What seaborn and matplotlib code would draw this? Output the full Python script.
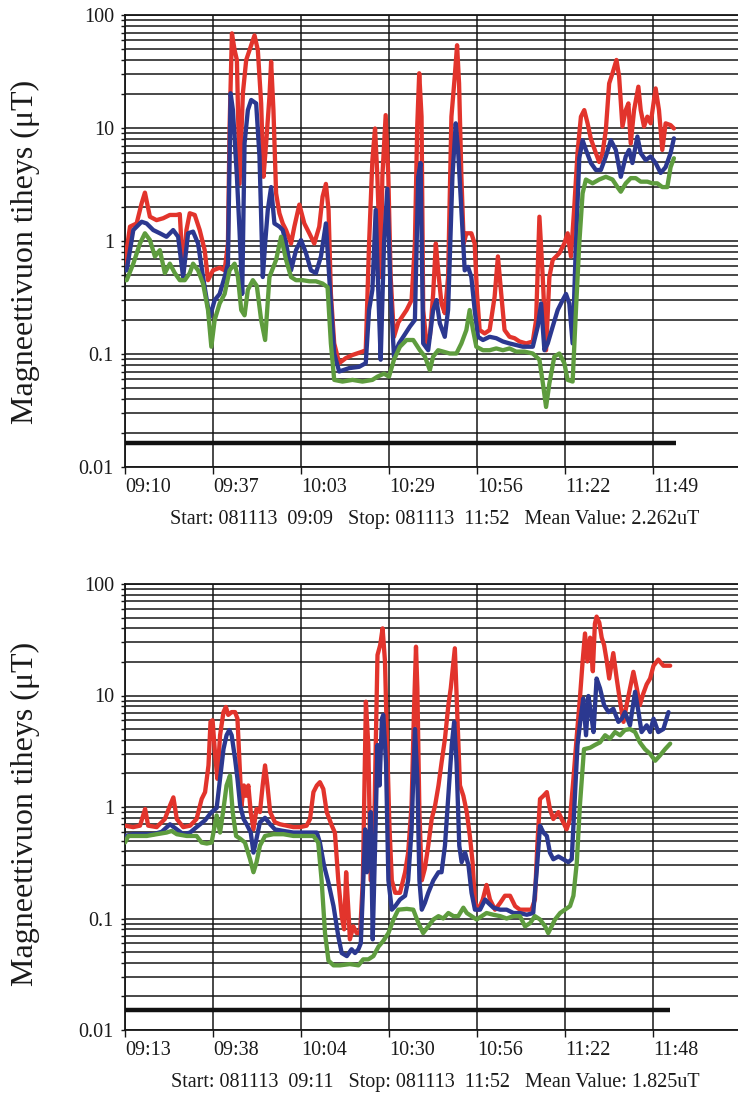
import numpy as np
import pandas as pd
import matplotlib
matplotlib.use("Agg")
import matplotlib.pyplot as plt
from matplotlib.ticker import LogLocator, FixedLocator, NullFormatter
import seaborn as sns

# ---------------- data (minutes after first tick, value in uT) ----------------
top_tick_labels = ["09:10", "09:37", "10:03", "10:29", "10:56", "11:22", "11:49"]
top_tick_step = 159 / 6          # minutes between labelled ticks
top_x_span = 184.6              # visible minutes
top_caption = "Start: 081113  09:09   Stop: 081113  11:52   Mean Value: 2.262uT"
top_limit_level = 0.0163
top_limit_end = 166.0

bot_tick_labels = ["09:13", "09:38", "10:04", "10:30", "10:56", "11:22", "11:48"]
bot_tick_step = 155 / 6
bot_x_span = 179.9
bot_caption = "Start: 081113  09:11   Stop: 081113  11:52   Mean Value: 1.825uT"
bot_limit_level = 0.0151
bot_limit_end = 160.0

top_red = [(0.0,0.6),(0.5,0.83),(1.5,1.34),(3.5,1.43),(5.0,2.15),(6.0,2.68),(7.5,1.64),(9.5,1.53),(11.5,1.59),(13.5,1.70),
 (15.5,1.70),(16.5,1.73),(17.0,0.95),(17.5,0.52),(18.5,1.25),(19.5,1.76),(21.0,1.70),(22.5,1.25),(24.0,0.83),(25.0,0.45),
 (26.5,0.55),(28.5,0.58),(30.0,0.55),(31.0,0.95),(31.5,10.3),(32.2,68.8),(33.0,49),(33.7,40),(34.5,3.2),(35.5,20.3),
 (36.5,40),(37.5,49),(38.5,60),(39.0,66),(40.0,49),(41.0,16.5),(41.7,3.7),(42.5,7.3),(43.5,18.9),(44.0,38.6),
 (44.7,14.4),(45.5,2.64),(46.5,1.76),(47.5,1.43),(48.5,1.25),(50.0,0.95),(51.0,1.34),(52.5,2.1),(54.0,1.43),(55.5,1.17),
 (57.0,0.95),(58.5,1.34),(59.5,2.47),(60.5,3.2),(61.3,1.88),(62.0,0.34),(63.0,0.124),(64.5,0.083),(66.5,0.092),(68.5,0.098),
 (71.5,0.105),(72.5,0.108),(73.5,0.95),(74.5,5.2),(75.3,9.9),(76.0,3.7),(77.0,0.48),(77.5,3.7),(78.5,13),(79.3,3.7),
 (80.0,0.48),(81.0,0.142),(82.3,0.19),(84.8,0.245),(86.3,0.30),(87.3,0.95),(88.0,10.3),(88.6,30.5),(89.3,12.6),(89.8,0.245),
 (90.8,0.124),(91.8,0.142),(92.8,0.34),(93.6,0.95),(94.3,0.55),(95.3,0.28),(96.3,0.23),(97.3,0.48),(98.3,12.6),(99.3,28.5),
 (100.0,54),(100.6,24.8),(101.3,3.7),(102.0,0.95),(102.8,1.17),(104.3,1.17),(105.3,0.95),(106.0,0.34),(106.8,0.163),(108.3,0.152),
 (109.8,0.163),(111.3,0.32),(112.3,0.73),(113.3,0.34),(114.3,0.163),(115.8,0.142),(117.3,0.138),(118.8,0.129),(120.8,0.124),(122.8,0.129),
 (123.8,0.20),(124.8,1.64),(125.8,0.48),(126.8,0.108),(127.8,0.48),(128.8,0.68),(130.8,0.78),(132.3,0.95),(133.3,1.17),(134.3,0.73),
 (135.3,2.0),(136.3,6.2),(137.3,12.6),(138.3,14.4),(139.3,11),(140.3,8),(141.8,6.0),(142.8,5.0),(143.8,6.0),(144.8,9.6),
 (145.8,24.8),(146.8,30.5),(148.0,40),(148.8,28.5),(149.8,10.3),(150.8,14.4),(151.6,16.5),(152.3,7.3),(153.3,14.4),(154.6,23.2),
 (155.3,14.4),(156.3,10.3),(157.3,12.6),(158.3,11),(159.8,22.4),(160.8,14.4),(161.8,6.4),(162.8,11),(164.3,10.6),(165.3,9.9)]

top_blue = [(0.0,0.55),(0.5,0.55),(2.5,1.25),(5.0,1.48),(6.5,1.43),(8.5,1.25),(10.5,1.17),(12.5,1.09),(14.5,1.25),(16.0,1.09),
 (17.5,0.48),(19.0,1.17),(20.5,1.21),(22.0,0.95),(23.5,0.48),(25.5,0.21),(27.0,0.30),(28.5,0.34),(30.0,0.48),(31.0,0.63),
 (31.8,20.3),(32.5,14.4),(33.7,3.7),(34.5,1.21),(35.3,0.34),(36.0,7.3),(37.0,14.4),(38.0,17.7),(39.5,16.5),(40.5,5.6),
 (41.5,0.48),(42.2,0.95),(43.0,1.88),(44.0,3.0),(45.0,1.43),(46.5,1.34),(47.5,1.25),(48.5,0.95),(50.0,0.55),(51.5,0.83),
 (53.0,1.02),(54.5,0.78),(56.0,0.55),(57.5,0.52),(59.0,0.73),(60.5,1.43),(61.5,0.48),(63.0,0.101),(64.5,0.070),(67.5,0.075),
 (70.5,0.077),(72.5,0.083),(73.5,0.245),(74.5,0.37),(75.5,1.88),(76.3,0.34),(77.0,0.089),(78.0,0.95),(79.0,2.9),(80.0,0.34),
 (81.0,0.095),(82.5,0.124),(85.8,0.175),(87.3,0.20),(88.3,3.7),(89.0,4.9),(89.8,0.124),(91.3,0.108),(92.8,0.245),(93.8,0.30),
 (94.8,0.187),(96.3,0.142),(97.3,0.245),(98.6,3.7),(99.6,11),(100.3,6.4),(101.3,1.88),(102.3,0.55),(103.3,0.59),(104.3,0.48),
 (105.3,0.245),(106.3,0.142),(107.8,0.133),(109.8,0.142),(111.8,0.138),(113.8,0.129),(115.8,0.124),(117.8,0.12),(119.8,0.116),(122.8,0.116),
 (124.3,0.175),(125.3,0.28),(126.3,0.108),(127.3,0.124),(128.8,0.175),(130.3,0.245),(131.8,0.30),(132.8,0.34),(133.8,0.28),(134.8,0.124),
 (135.8,0.95),(136.8,5.4),(137.8,7.8),(138.8,6.4),(140.3,4.9),(141.8,4.25),(143.3,4.25),(144.8,5.6),(146.3,7.8),(147.8,6.4),
 (149.3,3.7),(150.8,5.6),(151.8,6.4),(152.8,4.9),(154.3,8.4),(155.3,6.0),(156.8,5.2),(158.3,5.6),(159.8,4.9),(161.3,4.0),
 (162.8,4.5),(164.3,6.0),(165.3,8.1)]

top_green = [(0.0,0.45),(0.5,0.45),(2.5,0.63),(4.5,0.95),(6.0,1.17),(7.5,1.02),(9.0,0.73),(10.5,0.83),(12.0,0.52),(13.5,0.63),
 (15.0,0.52),(16.5,0.45),(18.0,0.45),(19.5,0.52),(20.5,0.63),(22.0,0.55),(23.5,0.42),(25.0,0.245),(26.0,0.116),(27.0,0.20),
 (28.5,0.28),(30.0,0.34),(31.5,0.55),(33.0,0.63),(34.0,0.48),(35.0,0.245),(36.0,0.22),(37.0,0.37),(38.5,0.45),(39.7,0.40),
 (41.0,0.20),(42.2,0.133),(43.5,0.48),(45.5,0.68),(47.0,1.09),(48.5,0.68),(50.0,0.48),(51.5,0.45),(53.5,0.45),(55.5,0.44),
 (57.5,0.44),(59.5,0.42),(61.0,0.39),(62.0,0.124),(63.0,0.059),(65.5,0.057),(68.5,0.059),(71.5,0.057),(74.5,0.059),(76.0,0.063),
 (78.0,0.067),(79.5,0.063),(81.0,0.089),(82.8,0.116),(84.8,0.133),(86.8,0.133),(88.8,0.108),(90.3,0.095),(91.8,0.072),(92.8,0.095),
 (94.3,0.108),(95.8,0.105),(97.8,0.101),(99.8,0.101),(101.3,0.124),(102.8,0.163),(103.8,0.245),(104.8,0.163),(105.8,0.116),(107.8,0.108),
 (109.8,0.108),(111.8,0.112),(113.8,0.108),(115.8,0.112),(117.8,0.105),(120.3,0.105),(122.8,0.101),(124.8,0.089),(126.0,0.051),(126.8,0.034),
 (127.8,0.055),(129.3,0.095),(130.8,0.101),(132.3,0.083),(133.3,0.059),(134.8,0.057),(135.8,0.245),(136.8,0.95),(137.8,2.64),(138.8,3.5),
 (140.8,3.24),(142.8,3.5),(144.8,3.7),(146.8,3.5),(148.3,3.0),(149.3,2.73),(150.8,3.24),(152.3,3.6),(153.8,3.6),(155.3,3.35),
 (157.3,3.35),(158.8,3.24),(160.3,3.24),(161.8,3.0),(163.3,3.0),(164.3,4.5),(165.3,5.4)]

bot_red = [(0.0,0.68),(2.4,0.66),(4.4,0.68),(5.9,0.96),(6.8,0.68),(9.3,0.66),(11.7,0.78),(13.2,1.03),(14.2,1.22),(15.2,0.78),
 (17.1,0.66),(19.1,0.68),(21.0,0.78),(22.5,1.18),(23.5,1.36),(24.5,2.36),(25.1,5.8),(25.7,6.0),(26.4,3.1),(27.1,1.79),
 (27.9,4.4),(28.9,7.1),(29.6,7.9),(30.3,6.7),(31.3,7.1),(32.3,7.1),(33.0,6.2),(33.6,2.5),(34.2,1.03),(34.9,1.56),
 (35.5,1.26),(36.2,1.56),(36.9,0.90),(37.7,0.63),(38.6,0.96),(39.6,0.90),(40.4,1.56),(41.1,2.36),(41.8,1.56),(42.6,0.90),
 (44.0,0.73),(45.5,0.70),(47.5,0.68),(49.4,0.66),(51.4,0.66),(53.3,0.68),(54.3,0.78),(55.3,1.36),(56.3,1.56),(57.2,1.67),
 (58.2,1.45),(59.2,0.90),(60.7,0.68),(61.6,0.59),(62.6,0.22),(63.6,0.105),(64.3,0.080),(64.9,0.26),(65.6,0.112),(66.0,0.065),
 (67.0,0.085),(68.0,0.074),(69.0,0.074),(69.8,0.22),(70.5,3.6),(70.7,8.8),(71.4,3.6),(72.1,0.22),(72.9,0.22),(73.4,1.79),
 (74.1,23.1),(74.9,28.4),(75.6,40),(76.3,20.2),(76.8,5.0),(77.6,0.68),(78.3,0.22),(79.3,0.17),(80.7,0.17),(82.2,0.26),
 (83.1,0.39),(84.1,1.03),(84.8,7.1),(85.4,27.4),(85.8,11.6),(86.4,0.90),(87.1,0.22),(88.0,0.28),(89.0,0.45),(90.0,0.78),
 (91.0,1.03),(92.0,1.56),(92.9,2.5),(93.9,4.1),(94.9,8.2),(95.6,11.6),(96.4,20.2),(96.8,26.5),(97.5,7.1),(98.3,1.56),
 (99.3,1.26),(100.3,0.90),(101.2,0.55),(102.0,0.32),(102.7,0.138),(103.7,0.12),(105.0,0.148),(106.1,0.20),(107.1,0.148),(108.6,0.12),
 (110.1,0.138),(111.5,0.16),(113.0,0.16),(114.5,0.129),(115.9,0.12),(117.4,0.12),(119.3,0.12),(120.3,0.148),(121.0,0.45),(121.8,1.18),
 (122.8,1.26),(123.8,1.36),(124.7,0.96),(125.7,0.78),(127.2,0.90),(128.6,0.73),(129.6,0.63),(130.6,0.78),(131.6,1.79),(132.6,4.4),
 (133.5,9.4),(134.3,20.2),(135.0,36),(135.7,20.2),(136.5,33),(137.3,16.5),(137.9,44),(138.4,51),(139.2,45),(139.9,33),
 (140.6,28.4),(141.4,20.2),(142.1,14.2),(143.3,24),(144.3,14.2),(145.3,8.8),(146.3,5.8),(147.2,8.2),(148.2,11.6),(149.2,16.3),
 (150.2,11.6),(151.1,8.2),(152.1,10.4),(153.1,12.6),(154.1,14.2),(155.1,18.5),(156.5,21),(158.0,18.5),(160.0,18.5)]

bot_blue = [(0.0,0.55),(2.4,0.57),(5.4,0.57),(8.3,0.57),(10.8,0.60),(13.2,0.70),(15.2,0.63),(17.1,0.57),(19.1,0.59),(21.0,0.66),
 (23.5,0.76),(25.4,0.90),(26.9,0.98),(27.9,1.79),(28.9,3.3),(29.8,4.4),(30.6,4.9),(31.3,4.4),(32.3,2.7),(33.0,1.79),
 (33.8,1.03),(34.8,0.78),(35.7,0.70),(36.9,0.59),(37.7,0.39),(38.6,0.52),(39.6,0.73),(41.1,0.80),(42.6,0.70),(44.0,0.63),
 (46.5,0.61),(49.4,0.59),(52.3,0.59),(54.8,0.59),(56.3,0.59),(57.2,0.48),(58.4,0.30),(59.7,0.21),(61.2,0.129),(62.6,0.069),
 (63.6,0.049),(65.1,0.046),(66.5,0.053),(67.5,0.049),(68.5,0.053),(69.2,0.060),(69.8,0.17),(70.5,0.63),(71.0,0.26),(71.7,0.45),
 (72.1,0.90),(72.7,0.065),(73.4,0.45),(74.1,3.6),(74.7,1.56),(75.4,6.2),(75.8,6.7),(76.6,2.5),(77.3,0.22),(78.3,0.12),
 (79.3,0.129),(80.7,0.148),(82.2,0.16),(83.1,0.22),(84.1,0.63),(85.1,5.0),(85.8,1.79),(86.4,0.22),(87.1,0.12),(88.0,0.138),
 (89.0,0.17),(90.5,0.22),(92.0,0.26),(92.9,0.26),(93.9,0.45),(94.9,1.26),(95.9,3.6),(96.6,5.8),(97.3,2.5),(98.1,0.45),
 (98.8,0.32),(99.8,0.39),(100.8,0.30),(101.7,0.17),(102.7,0.12),(104.2,0.12),(105.7,0.148),(106.6,0.138),(108.1,0.125),(110.1,0.12),
 (112.0,0.12),(114.0,0.112),(115.9,0.112),(117.9,0.108),(119.8,0.112),(120.8,0.26),(121.8,0.68),(122.8,0.59),(123.8,0.55),(124.7,0.39),
 (125.7,0.34),(127.2,0.36),(128.6,0.34),(130.1,0.32),(131.1,0.34),(131.8,0.90),(132.8,3.6),(133.7,6.2),(134.5,9.4),(135.3,4.4),
 (136.0,9.9),(136.7,7.1),(137.5,4.7),(138.4,14.2),(139.4,11.6),(140.6,8.2),(141.9,7.1),(143.3,7.6),(144.8,5.8),(145.8,6.2),
 (146.7,7.1),(148.2,5.4),(149.7,10.8),(150.7,7.1),(151.6,4.7),(153.1,5.4),(154.1,4.7),(155.1,6.2),(156.5,4.7),(158.0,5.0),
 (159.5,7.1)]

bot_green = [(0.0,0.48),(1.0,0.55),(3.4,0.55),(6.4,0.55),(9.3,0.57),(12.2,0.59),(13.7,0.61),(15.2,0.57),(18.1,0.55),(21.0,0.55),
 (22.5,0.48),(24.0,0.47),(25.4,0.48),(26.9,0.84),(27.9,0.59),(28.9,0.96),(29.8,1.56),(30.8,1.91),(31.6,0.90),(32.6,0.55),
 (33.8,0.52),(35.2,0.48),(36.7,0.34),(37.7,0.26),(38.6,0.32),(39.6,0.45),(41.1,0.55),(43.5,0.57),(46.5,0.57),(49.4,0.55),
 (52.3,0.55),(55.3,0.55),(56.7,0.48),(57.7,0.22),(58.7,0.074),(59.7,0.042),(61.2,0.038),(63.1,0.038),(66.0,0.039),(68.5,0.038),
 (69.9,0.043),(71.4,0.043),(72.9,0.046),(74.4,0.056),(75.8,0.063),(77.3,0.074),(78.8,0.098),(80.2,0.12),(82.7,0.122),(84.6,0.12),
 (86.1,0.091),(87.5,0.074),(89.0,0.085),(90.5,0.098),(92.0,0.105),(93.4,0.10),(94.9,0.112),(96.4,0.105),(97.8,0.105),(99.3,0.125),
 (100.3,0.112),(101.7,0.105),(103.2,0.098),(104.7,0.105),(106.1,0.112),(108.1,0.108),(110.1,0.105),(112.0,0.10),(114.0,0.105),(115.9,0.105),
 (117.4,0.085),(118.9,0.091),(120.3,0.105),(121.8,0.098),(123.3,0.085),(124.2,0.074),(125.2,0.085),(126.2,0.098),(127.7,0.112),(129.1,0.12),
 (130.6,0.129),(131.6,0.16),(132.6,0.32),(133.5,1.03),(134.7,3.3),(136.5,3.4),(137.9,3.6),(139.4,3.8),(140.9,4.4),(142.3,4.1),
 (143.8,4.7),(145.3,4.4),(146.7,4.9),(148.2,5.0),(149.7,4.7),(151.1,3.8),(152.6,3.3),(154.1,3.0),(155.6,2.6),(157.0,2.9),
 (158.5,3.3),(160.0,3.7)]

y_tick_values = [0.01, 0.1, 1, 10, 100]
y_tick_labels = ["0.01", "0.1", "1", "10", "100"]
series_colors = {"red": "#e2342c", "blue": "#2b3890", "green": "#5e9c3e"}
ylabel_text = "Magneettivuon tiheys (\u03bcT)"

# ---------------- style ----------------
sns.set_theme(style="white")
plt.rcParams["font.family"] = ["Liberation Serif", "DejaVu Serif"]

W, H = 738, 1098
fig = plt.figure(figsize=(W / 100, H / 100), dpi=100)
ax_top = fig.add_axes([125 / W, 1 - 467 / H, 1 - 125 / W, (467 - 15) / H])
ax_bot = fig.add_axes([125 / W, 1 - 1030 / H, 1 - 125 / W, (1030 - 584) / H])


def draw_panel(ax, series, labels, step, span, caption, cap_y, lvl, lvl_end, ylab_y):
    frames = []
    for name, pts in series:
        d = pd.DataFrame(pts, columns=["t", "v"])
        d["s"] = name
        frames.append(d)
    for d in frames:
        sns.lineplot(data=d, x="t", y="v", color=series_colors[d["s"].iloc[0]],
                     lw=3.1, ax=ax, estimator=None, sort=False, legend=False, zorder=3)
    ax.hlines(lvl, 0, lvl_end, color="#111111", lw=3.2, zorder=4)
    ax.set_yscale("log")
    ax.set_ylim(y_tick_values[0], y_tick_values[-1])
    ax.set_xlim(0, span)
    ax.yaxis.set_major_locator(FixedLocator(y_tick_values))
    ax.set_yticklabels(y_tick_labels)
    ax.yaxis.set_minor_locator(LogLocator(base=10, subs=np.arange(2, 10)))
    ax.yaxis.set_minor_formatter(NullFormatter())
    xt = [i * step for i in range(len(labels))]
    ax.set_xticks(xt)
    ax.set_xticklabels(labels, ha="left")
    ax.grid(True, which="both", axis="y", color="#161616", lw=1.1, zorder=1)
    ax.grid(True, which="major", axis="x", color="#161616", lw=1.1, zorder=1)
    ax.set_axisbelow(True)
    for sp in ["left", "bottom", "top"]:
        ax.spines[sp].set_visible(True)
        ax.spines[sp].set_color("#161616")
        ax.spines[sp].set_linewidth(1.3)
    ax.spines["right"].set_visible(False)
    ax.tick_params(axis="y", which="both", direction="out", length=3, width=1.0,
                   color="#161616", left=True, labelsize=14.5, pad=5)
    ax.tick_params(axis="x", which="major", direction="out", length=5, width=1.0,
                   color="#161616", bottom=True, labelsize=14.5, pad=3)
    for lab in ax.get_xticklabels() + ax.get_yticklabels():
        lab.set_color("#1a1a1a")
    ax.set_xlabel("")
    ax.set_ylabel("")
    fig.text(435 / W, 1 - cap_y / H, caption, ha="center", va="center",
             fontsize=14.5, color="#1a1a1a")
    fig.text(25 / W, 1 - ylab_y / H, ylabel_text, rotation=90, ha="center",
             va="center", fontsize=23, color="#1a1a1a")


draw_panel(ax_top, [("red", top_red), ("blue", top_blue), ("green", top_green)],
           top_tick_labels, top_tick_step, top_x_span, top_caption, 520,
           top_limit_level, top_limit_end, 252)
draw_panel(ax_bot, [("red", bot_red), ("blue", bot_blue), ("green", bot_green)],
           bot_tick_labels, bot_tick_step, bot_x_span, bot_caption, 1083,
           bot_limit_level, bot_limit_end, 814)

fig.savefig("out.png", dpi=100)
